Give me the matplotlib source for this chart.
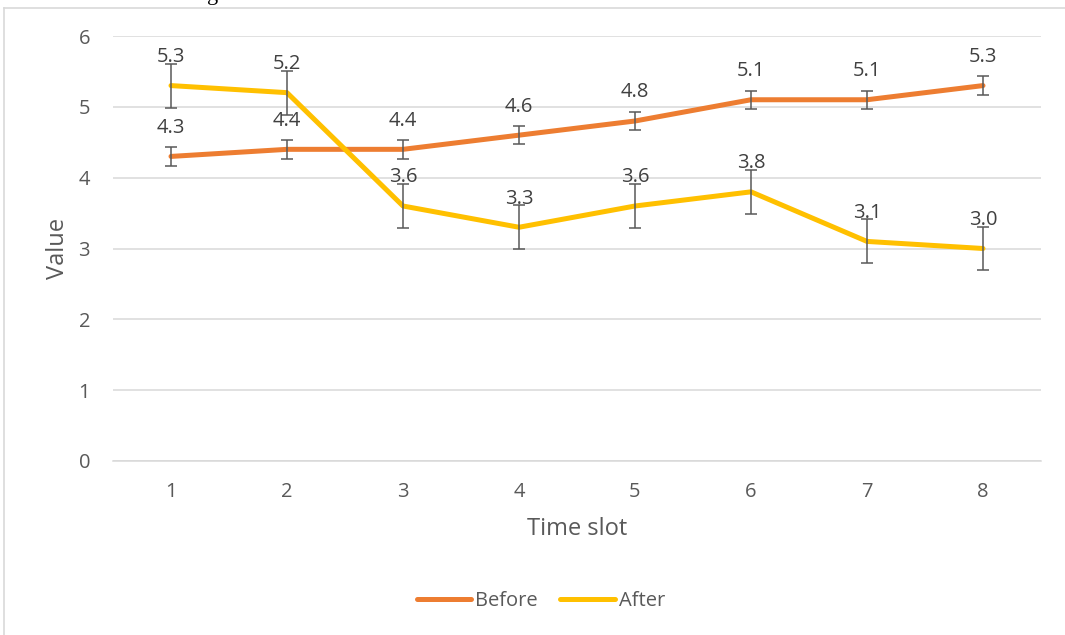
import matplotlib.pyplot as plt
from matplotlib.lines import Line2D

# data
slots = [1, 2, 3, 4, 5, 6, 7, 8]
before = [4.3, 4.4, 4.4, 4.6, 4.8, 5.1, 5.1, 5.3]
after = [5.3, 5.2, 3.6, 3.3, 3.6, 3.8, 3.1, 3.0]
before_err = [0.13, 0.13, 0.13, 0.13, 0.13, 0.13, 0.13, 0.13]
after_err = [0.31, 0.31, 0.31, 0.31, 0.31, 0.31, 0.31, 0.31]
y_ticks = [0, 1, 2, 3, 4, 5, 6]

W, H = 1065, 635
plt.rcParams['font.family'] = ['Open Sans', 'DejaVu Sans']
txt = '#595959'

fig = plt.figure(figsize=(W / 100, H / 100), dpi=100)
ax = fig.add_axes([113 / W, 1 - 461 / H, (1041 - 113) / W, (461 - 36) / H])

ax.plot(slots, before, color='#ED7D31', lw=3.6, solid_capstyle='round',
        solid_joinstyle='round', label='Before', zorder=3)
ax.plot(slots, after, color='#FFC000', lw=3.6, solid_capstyle='round',
        solid_joinstyle='round', label='After', zorder=3)
ax.errorbar(slots, before, yerr=before_err, fmt='none', ecolor='#595959',
            elinewidth=1.1, capsize=4, capthick=1.1, zorder=4)
ax.errorbar(slots, after, yerr=after_err, fmt='none', ecolor='#595959',
            elinewidth=1.1, capsize=4, capthick=1.1, zorder=4)

for xs, ys in [(slots, before), (slots, after)]:
    for x, y in zip(xs, ys):
        ax.annotate(f'{y:.1f}', (x, y), xytext=(0, 17), textcoords='offset points',
                    ha='center', va='baseline', fontsize=14.5, color='#404040', zorder=5)

ax.set_xlim(0.5, 8.5)
ax.set_ylim(0, 6)
ax.set_yticks(y_ticks)
ax.set_xticks(slots)
ax.grid(axis='y', color='#D9D9D9', lw=1.1)
ax.set_axisbelow(True)
for s in ['top', 'right', 'left']:
    ax.spines[s].set_visible(False)
ax.spines['bottom'].set_color('#D9D9D9')
ax.spines['bottom'].set_linewidth(1.1)
ax.tick_params(length=0, labelsize=14.5, labelcolor=txt)
ax.tick_params(axis='y', pad=16.5)
ax.tick_params(axis='x', pad=15)
ax.set_xlabel('Time slot', fontsize=17, color=txt, labelpad=11)
ax.set_ylabel('Value', fontsize=17, color=txt, labelpad=6)

fig.legend(loc='center', bbox_to_anchor=(541 / W, 1 - 601 / H), ncol=2, frameon=False,
           fontsize=14.5, labelcolor=txt, handlelength=2.7, handletextpad=0.2,
           columnspacing=1.1)

# chart border and clipped text above it
fig.add_artist(Line2D([4.5 / W, 4.5 / W], [0, 1 - 7.5 / H], color='#D9D9D9', lw=1.2))
fig.add_artist(Line2D([4.5 / W, 1], [1 - 7.5 / H, 1 - 7.5 / H], color='#D9D9D9', lw=1.2))
fig.text(213 / W, 1.0, 'g', family='Liberation Serif', fontsize=16, ha='center',
         va='baseline', color='black')

fig.savefig('out.png', dpi=100)
